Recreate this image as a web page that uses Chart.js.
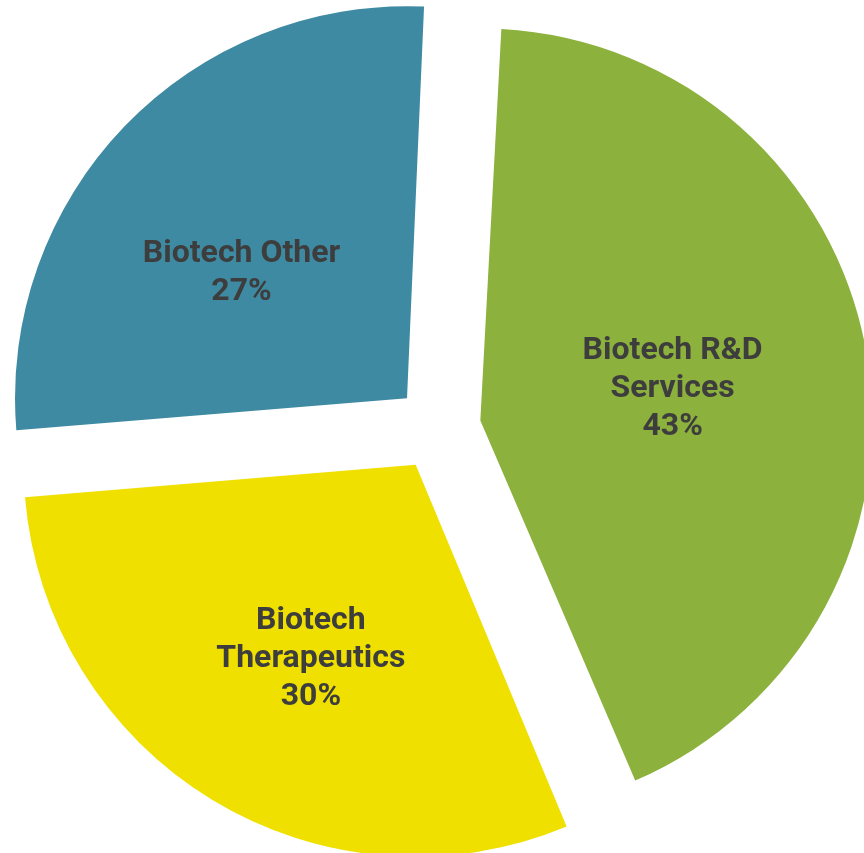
<!DOCTYPE html>
<html>
<head>
<meta charset="utf-8">
<script src="https://cdn.jsdelivr.net/npm/chart.js@4/dist/chart.umd.min.js"></script>
<style>
  html, body { margin: 0; padding: 0; background: #ffffff; }
  #wrap { width: 864px; height: 853px; position: relative; }
</style>
</head>
<body>
<div id="wrap"><canvas id="c"></canvas></div>
<script>
// ---- data ----
const categories = ["Biotech R&D Services", "Biotech Therapeutics", "Biotech Other"];
const labelLines = [["Biotech R&D", "Services"], ["Biotech", "Therapeutics"], ["Biotech Other"]];
const shares = [43, 30, 27];

// ---- style ----
const colors = ["#8cb13d", "#efe000", "#3f8aa3"];
const textColor = "#3d3d3d";
const OFFSET = 172;       // Chart.js translates each slice by offset/4
const RADIUS = 392;
// label placement: distance from translated apex (fraction of radius), angle shift (deg)
const labelDist = [0.497, 0.564, 0.530];
const labelShift = [0.8, -3.0, -6.7];

const fixRadius = {
  id: 'fixRadius',
  afterDatasetsUpdate(chart) {
    const meta = chart.getDatasetMeta(0);
    meta.data.forEach(arc => {
      const circ = arc.endAngle - arc.startAngle;
      const fix = 1 - Math.sin(Math.min(Math.PI, circ));
      arc.outerRadius = RADIUS - (OFFSET / 4) * fix;
    });
  }
};

const sliceLabels = {
  id: 'sliceLabels',
  afterDatasetsDraw(chart) {
    const ctx = chart.ctx;
    const meta = chart.getDatasetMeta(0);
    ctx.save();
    ctx.font = "bold 32px Roboto";
    ctx.fillStyle = textColor;
    ctx.textAlign = "center";
    ctx.textBaseline = "middle";
    meta.data.forEach((arc, i) => {
      const half = (arc.startAngle + arc.endAngle) / 2;
      const t = OFFSET / 4;
      const ax = arc.x + Math.cos(half) * t;
      const ay = arc.y + Math.sin(half) * t;
      const a2 = half + labelShift[i] * Math.PI / 180;
      const d = labelDist[i] * RADIUS;
      const cx = ax + Math.cos(a2) * d;
      const cy = ay + Math.sin(a2) * d;
      const lines = labelLines[i].concat([shares[i] + "%"]);
      const lh = 38;
      const y0 = cy - (lines.length - 1) * lh / 2;
      lines.forEach((ln, k) => ctx.fillText(ln, cx, y0 + k * lh));
    });
    ctx.restore();
  }
};

new Chart(document.getElementById('c'), {
  type: 'pie',
  data: {
    labels: categories,
    datasets: [{
      data: shares,
      backgroundColor: colors,
      borderWidth: 0,
      offset: OFFSET,
      radius: RADIUS
    }]
  },
  options: {
    responsive: true,
    maintainAspectRatio: false,
    animation: false,
    rotation: 2.5,
    layout: { padding: { left: 12, top: 3, right: 0, bottom: 0 } },
    plugins: { legend: { display: false }, tooltip: { enabled: false } },
    events: []
  },
  plugins: [fixRadius, sliceLabels]
});
</script>
</body>
</html>
